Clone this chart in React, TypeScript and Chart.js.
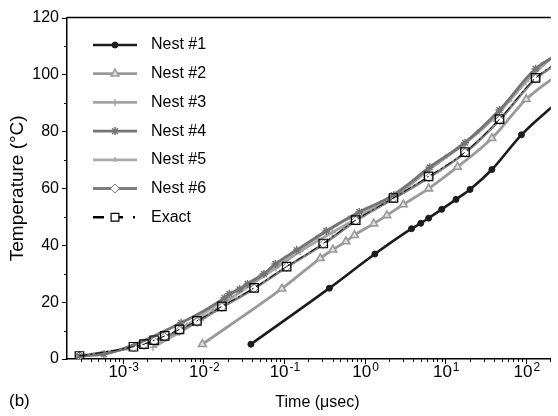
import React, { useEffect, useRef } from 'react';
import { Chart, registerables } from 'chart.js';
Chart.register(...registerables);

const FONT = "'Liberation Sans', Arial, 'DejaVu Sans', sans-serif";

// Time in microseconds, temperature in °C
const exactTime = [2.91e-4, 1.36e-3, 1.84e-3, 2.46e-3, 3.32e-3, 5.07e-3, 8.34e-3, 0.017, 0.0426, 0.108, 0.307, 0.776, 2.28, 6.22, 17.6, 47.1, 132, 355];
const exactTemp = [1.05, 4.3, 5.2, 6.6, 8.1, 10.4, 13.4, 18.5, 25.0, 32.5, 40.6, 48.8, 56.6, 64.2, 72.7, 84.3, 98.8, 107];

const nest1Time = [0.0389, 0.366, 1.34, 3.82, 4.97, 6.22, 9.04, 13.6, 20.3, 37.9, 88.1, 251];
const nest1Temp = [5.2, 24.9, 36.9, 45.8, 47.7, 49.5, 52.6, 56.1, 59.6, 66.6, 78.8, 90.5];

const nest2Time = [9.73e-3, 0.0942, 0.282, 0.404, 0.586, 0.748, 1.3, 1.89, 3.02, 6.22, 14.2, 37.9, 101, 316];
const nest2Temp = [5.2, 24.7, 35.4, 38.4, 41.3, 43.5, 47.6, 50.5, 54.3, 59.9, 67.5, 77.6, 91.3, 102];

const nest3Time = [2.37e-3, 5.01e-3, 0.01, 0.02, 0.0398, 0.0794, 0.158, 0.398, 1.0, 2.51, 6.31, 15.8, 39.8, 100, 251];
const nest3Temp = [4.1, 9.3, 14.5, 20.5, 26.3, 32.0, 37.8, 44.5, 51.0, 57.6, 66.6, 74.8, 84.5, 97.5, 108];

const nest4Time = [2.91e-4, 5.86e-4, 5.31e-3, 0.0183, 0.021, 0.0282, 0.0353, 0.0564, 0.0782, 0.144, 0.334, 0.859, 2.3, 6.4, 17.6, 47.1, 132, 355];
const nest4Temp = [1.05, 1.7, 12.7, 21.5, 22.9, 24.5, 26.4, 29.9, 33.4, 38.3, 45.0, 51.7, 57.6, 67.4, 76.0, 87.5, 102, 109];

const nest5Time = [2.51e-3, 6.31e-3, 0.0126, 0.0251, 0.0501, 0.1, 0.251, 0.631, 1.58, 3.98, 10, 25.1, 63.1, 158, 316];
const nest5Temp = [4.5, 12.0, 17.8, 23.8, 29.2, 34.5, 42.5, 49.5, 55.0, 62.6, 71.0, 79.8, 91.0, 103.5, 109];

const nest6Time = [2.91e-4, 1.36e-3, 1.84e-3, 2.46e-3, 3.32e-3, 5.07e-3, 8.34e-3, 0.017, 0.0426, 0.108, 0.307, 0.776, 2.28, 6.22, 17.6, 47.1, 132, 355];
const nest6Temp = [1.05, 4.0, 4.9, 6.2, 7.7, 10.0, 13.0, 18.2, 24.8, 32.3, 40.4, 48.6, 56.4, 63.8, 72.5, 84.0, 98.5, 106.5];

const seriesNames = ['Nest #1', 'Nest #2', 'Nest #3', 'Nest #4', 'Nest #5', 'Nest #6', 'Exact'];

const xTickValues = [1e-3, 1e-2, 1e-1, 1, 10, 100];
const xTickBase = '10';
const xTickExponents = ['-3', '-2', '-1', '0', '1', '2'];
const yTickValues = [0, 20, 40, 60, 80, 100, 120];

const xTitle = 'Time (μsec)';
const yTitle = 'Temperature (°C)';
const panelLabel = '(b)';

const X_MIN = 2.04e-4;
const X_MAX = 203.7;
const X_TITLE_AT = 0.26;

const zip = (t: number[], v: number[]) => t.map((x, i) => ({ x, y: v[i] }));

function drawMarker(ctx: CanvasRenderingContext2D, style: string, r: number, x: number, y: number) {
  ctx.beginPath();
  switch (style) {
    case 'circle':
      ctx.arc(x, y, r, 0, Math.PI * 2);
      ctx.fill();
      ctx.stroke();
      break;
    case 'triangle':
      ctx.moveTo(x, y - r);
      ctx.lineTo(x + r * 0.866, y + r * 0.5);
      ctx.lineTo(x - r * 0.866, y + r * 0.5);
      ctx.closePath();
      ctx.fill();
      ctx.stroke();
      break;
    case 'rect': {
      const s = r * Math.SQRT1_2;
      ctx.rect(x - s, y - s, 2 * s, 2 * s);
      ctx.fill();
      ctx.stroke();
      break;
    }
    case 'rectRot':
      ctx.moveTo(x, y - r);
      ctx.lineTo(x + r, y);
      ctx.lineTo(x, y + r);
      ctx.lineTo(x - r, y);
      ctx.closePath();
      ctx.fill();
      ctx.stroke();
      break;
    case 'cross':
      ctx.moveTo(x - r, y);
      ctx.lineTo(x + r, y);
      ctx.moveTo(x, y - r);
      ctx.lineTo(x, y + r);
      ctx.stroke();
      break;
    case 'star': {
      const d = r * Math.SQRT1_2;
      ctx.moveTo(x - r, y);
      ctx.lineTo(x + r, y);
      ctx.moveTo(x, y - r);
      ctx.lineTo(x, y + r);
      ctx.moveTo(x - d, y - d);
      ctx.lineTo(x + d, y + d);
      ctx.moveTo(x - d, y + d);
      ctx.lineTo(x + d, y - d);
      ctx.stroke();
      break;
    }
    default:
      ctx.arc(x, y, r, 0, Math.PI * 2);
      ctx.fill();
  }
}

const extrasPlugin = {
  id: 'extras',
  afterDraw(chart: any) {
    const ctx = chart.ctx as CanvasRenderingContext2D;
    const { left, right, top, bottom } = chart.chartArea;
    const xs = chart.scales.x;
    const ys = chart.scales.y;
    ctx.save();
    ctx.strokeStyle = '#000';
    // top frame line
    ctx.lineWidth = 1.5;
    ctx.beginPath();
    ctx.moveTo(left, top);
    ctx.lineTo(right, top);
    ctx.stroke();
    // x ticks (major + minor, outward)
    ctx.lineWidth = 1;
    for (let e = -4; e <= 2; e++) {
      for (let m = 1; m <= 9; m++) {
        const v = m * Math.pow(10, e);
        if (v < xs.min || v > xs.max) continue;
        const px = Math.round(xs.getPixelForValue(v)) + 0.5;
        ctx.beginPath();
        ctx.moveTo(px, bottom);
        ctx.lineTo(px, bottom + (m === 1 ? 5 : 3));
        ctx.stroke();
      }
    }
    // y ticks
    for (let v = 0; v <= 120; v += 10) {
      const py = Math.round(ys.getPixelForValue(v)) + 0.5;
      ctx.beginPath();
      ctx.moveTo(left, py);
      ctx.lineTo(left - (v % 20 === 0 ? 5 : 3), py);
      ctx.stroke();
    }
    // x tick labels with superscript exponents
    ctx.fillStyle = '#000';
    ctx.textAlign = 'left';
    ctx.textBaseline = 'alphabetic';
    const baseFont = `17px ${FONT}`;
    const expFont = `12px ${FONT}`;
    xTickValues.forEach((v, i) => {
      const px = xs.getPixelForValue(v);
      ctx.font = baseFont;
      const wb = ctx.measureText(xTickBase).width;
      ctx.font = expFont;
      const we = ctx.measureText(xTickExponents[i]).width;
      const x0 = px - (wb + we + 1) / 2 + 1;
      ctx.font = baseFont;
      ctx.fillText(xTickBase, x0, bottom + 18);
      ctx.font = expFont;
      ctx.fillText(xTickExponents[i], x0 + wb + 1, bottom + 12);
    });
    // x axis title
    ctx.font = `16px ${FONT}`;
    ctx.textAlign = 'center';
    ctx.textBaseline = 'middle';
    ctx.fillText(xTitle, xs.getPixelForValue(X_TITLE_AT), 403);
    // legend
    const rowY0 = 45;
    const rowStep = 28.7;
    const lx0 = 93;
    const lx1 = 137;
    chart.data.datasets.forEach((ds: any, i: number) => {
      const y = rowY0 + i * rowStep;
      ctx.save();
      ctx.strokeStyle = ds.borderColor;
      ctx.lineWidth = ds.legendLineWidth || ds.borderWidth;
      ctx.setLineDash(ds.legendDash || ds.borderDash || []);
      ctx.beginPath();
      ctx.moveTo(lx0, y);
      ctx.lineTo(lx1, y);
      ctx.stroke();
      ctx.setLineDash([]);
      ctx.restore();
      const meta = chart.getDatasetMeta(i);
      const pt = meta.data[0];
      if (pt) {
        const opts = pt.options;
        ctx.save();
        ctx.fillStyle = ds.legendPointFill || opts.backgroundColor;
        ctx.strokeStyle = opts.borderColor;
        ctx.lineWidth = opts.borderWidth;
        drawMarker(ctx, opts.pointStyle, ds.legendPointRadius || opts.radius, (lx0 + lx1) / 2, y);
        ctx.restore();
      }
      ctx.fillStyle = '#000';
      ctx.font = `16px ${FONT}`;
      ctx.textAlign = 'left';
      ctx.textBaseline = 'middle';
      ctx.fillText(ds.label, 151, y);
    });
    // panel label
    ctx.fillStyle = '#000';
    ctx.font = `17px ${FONT}`;
    ctx.textAlign = 'left';
    ctx.textBaseline = 'middle';
    ctx.fillText(panelLabel, 9, 401);
    ctx.restore();
  },
};

export default function App() {
  const ref = useRef<HTMLCanvasElement | null>(null);
  useEffect(() => {
    if (!ref.current) return;
    const common = { cubicInterpolationMode: 'monotone' as const, fill: false };
    const chart = new Chart(ref.current, {
      type: 'line',
      data: {
        datasets: [
          {
            ...common, label: seriesNames[0], data: zip(nest1Time, nest1Temp), order: 1,
            borderColor: '#1c1c1c', borderWidth: 2.6, pointStyle: 'circle', pointRadius: 3,
            pointBackgroundColor: '#1c1c1c', pointBorderColor: '#1c1c1c', pointBorderWidth: 1,
          },
          {
            ...common, label: seriesNames[1], data: zip(nest2Time, nest2Temp), order: 3,
            borderColor: '#9a9a9a', borderWidth: 2.8, pointStyle: 'triangle', pointRadius: 4.5,
            pointBackgroundColor: '#e0e0e0', pointBorderColor: '#9a9a9a', pointBorderWidth: 1.6,
          },
          {
            ...common, label: seriesNames[2], data: zip(nest3Time, nest3Temp), order: 5,
            borderColor: '#a4a4a4', borderWidth: 2.8, pointStyle: 'cross', pointRadius: 3.5,
            pointBackgroundColor: '#a4a4a4', pointBorderColor: '#a4a4a4', pointBorderWidth: 1.5,
          },
          {
            ...common, label: seriesNames[3], data: zip(nest4Time, nest4Temp), order: 2,
            borderColor: '#747474', borderWidth: 2.8, pointStyle: 'star', pointRadius: 4,
            pointBackgroundColor: '#747474', pointBorderColor: '#747474', pointBorderWidth: 1.5,
          },
          {
            ...common, label: seriesNames[4], data: zip(nest5Time, nest5Temp), order: 6,
            borderColor: '#ababab', borderWidth: 2.8, pointStyle: 'triangle', pointRadius: 2.5,
            pointBackgroundColor: '#ababab', pointBorderColor: '#ababab', pointBorderWidth: 1,
          },
          {
            ...common, label: seriesNames[5], data: zip(nest6Time, nest6Temp), order: 4,
            borderColor: '#7e7e7e', borderWidth: 2.8, pointStyle: 'rectRot', pointRadius: 4.5,
            pointBackgroundColor: '#ffffff', pointBorderColor: '#7e7e7e', pointBorderWidth: 1,
          },
          {
            ...common, label: seriesNames[6], data: zip(exactTime, exactTemp), order: 0,
            borderColor: '#000000', borderWidth: 1, borderDash: [8, 3, 2, 3],
            legendLineWidth: 2.5, legendDash: [11, 7, 12, 10, 2, 20], legendPointFill: '#ffffff', legendPointRadius: 5.5,
            pointStyle: 'rect', pointRadius: 6,
            pointBackgroundColor: 'rgba(255,255,255,0)', pointBorderColor: '#000000', pointBorderWidth: 1.2,
          } as any,
        ],
      },
      options: {
        responsive: false,
        animation: false,
        layout: { padding: { top: 15, right: 0, left: 0, bottom: 0 } },
        plugins: { legend: { display: false }, tooltip: { enabled: false } },
        scales: {
          x: {
            type: 'logarithmic',
            min: X_MIN,
            max: X_MAX,
            position: 'bottom',
            grid: { display: false, drawTicks: false },
            border: { display: true, color: '#000', width: 1.5 },
            afterBuildTicks: (scale: any) => {
              scale.ticks = xTickValues.map((v) => ({ value: v }));
            },
            afterFit: (scale: any) => {
              scale.height = 57;
            },
            ticks: { display: false },
            title: { display: false },
          },
          y: {
            type: 'linear',
            min: 0,
            max: 120,
            grid: { display: false, drawTicks: false },
            border: { display: true, color: '#000', width: 1.5 },
            afterBuildTicks: (scale: any) => {
              scale.ticks = yTickValues.map((v) => ({ value: v }));
            },
            afterFit: (scale: any) => {
              scale.width = 67;
            },
            ticks: {
              padding: 8,
              color: '#000',
              font: { family: FONT, size: 16 },
            },
            title: {
              display: true,
              text: yTitle,
              color: '#000',
              font: { family: FONT, size: 19 },
              padding: { top: 6, bottom: 0 },
            },
          },
        },
      },
      plugins: [extrasPlugin],
    } as any);
    return () => chart.destroy();
  }, []);
  return (
    <div style={{ position: 'absolute', left: 0, top: 0, width: 558, height: 416, background: '#fff' }}>
      <canvas ref={ref} width={558} height={416} style={{ display: 'block' }} />
    </div>
  );
}
